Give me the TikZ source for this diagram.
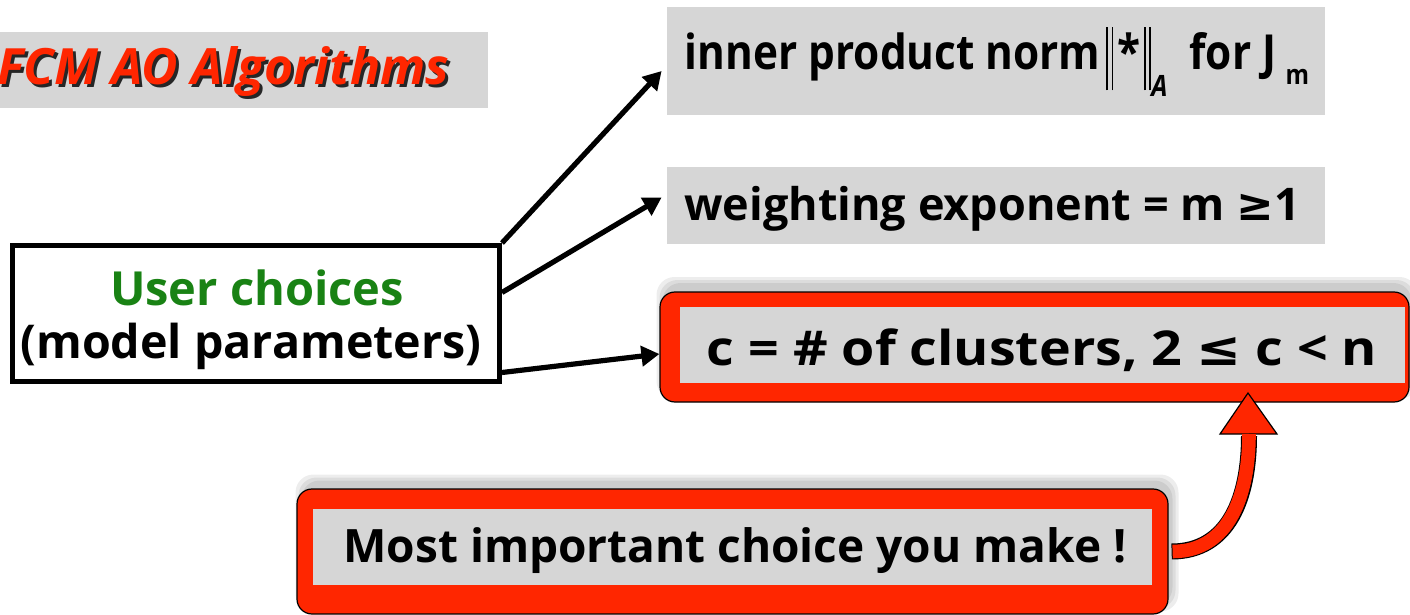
\documentclass[tikz,border=0pt]{standalone}
\usepackage{fontspec}
\setmainfont{Open Sans}
\newfontfamily\djv{DejaVu Sans}
\usetikzlibrary{arrows.meta,calc}
\definecolor{fcmred}{RGB}{255,38,0}
\definecolor{boxgray}{RGB}{214,214,214}
\definecolor{usergreen}{RGB}{25,130,20}
\newcommand{\fsz}[1]{\fontsize{#1}{#1}\selectfont}
\begin{document}
\begin{tikzpicture}[x=0.5pt,y=-0.5pt,
  graybox/.style={fill=boxgray, draw=none, inner sep=0pt},
  redbox/.style={fill=fcmred, draw=black, line width=0.6pt, rounded corners=7.5pt, inner sep=0pt},
  shadowbox/.style={fill=black, draw=none, rounded corners=9pt, inner sep=0pt, opacity=0.07},
  bigtext/.style={font=\bfseries, inner sep=0pt},
  titletext/.style={font=\bfseries\itshape\fsz{25}, inner sep=0pt},
  arr/.style={line width=2.6pt, -{Triangle[length=9pt,width=10pt]}}
]
\useasboundingbox (0,0) rectangle (1410,615);

% title
\node[graybox, minimum width=244pt, minimum height=38pt] (tbox) at (244,70) {};
\node[titletext, text=black!85, anchor=west] (tshadow) at (0,75) {FCM AO Algorithms};
\node[titletext, text=fcmred, anchor=west] (title) at (-3,72) {FCM AO Algorithms};

% right gray boxes
\node[graybox, minimum width=329pt, minimum height=54pt] (b1) at (996,61) {};
\node[bigtext, anchor=center] (t1) at (997,62) {\scalebox{0.92}[1.05]{\fsz{23}inner product norm\hspace{3pt}%
  \raisebox{-10pt}{\rule{1pt}{30pt}\hspace{2pt}\rule{1pt}{30pt}}%
  \hspace{2pt}*\hspace{2pt}%
  \raisebox{-10pt}{\rule{1pt}{30pt}\hspace{2pt}\rule{1pt}{30pt}}%
  \raisebox{-13pt}{\fsz{14}\itshape A}\hspace{12pt}for J\hspace{5pt}\raisebox{-7pt}{\fsz{13}m}}};

\node[graybox, minimum width=329pt, minimum height=38.5pt] (b2) at (996,205.5) {};
\node[bigtext] (t2) at (992,209) {\fsz{22.5}weighting exponent = m {\djv\bfseries ≥}1};

% user choices box
\node[draw=black, fill=white, line width=2.5pt, minimum width=243.5pt, minimum height=68pt, inner sep=0pt] (ub) at (256,313.5) {};
\node[bigtext, text=usergreen] (ut1) at (257,288) {\fsz{23.5}User choices};
\node[bigtext] (ut2) at (251,346) {\fsz{23.3}(model parameters)};

% shadows of red boxes
\foreach \d in {0,3,6}{
  \node[shadowbox, minimum width={374.5pt+\d pt}, minimum height={55pt+\d pt}] at (1037,338) {};
  \node[shadowbox, minimum width={435.5pt+\d pt}, minimum height={62.5pt+\d pt}] at (737,543) {};
}

% c box
\node[redbox, minimum width=374.5pt, minimum height=55pt] (cbox) at (1034.5,347) {};
\node[graybox, minimum width=362.5pt, minimum height=38pt] (cin) at (1042.5,345) {};
\node[bigtext] (ct) at (1042,350) {\scalebox{1.12}[1]{\fsz{24}c = \# of clusters, 2 {\djv\bfseries ≤} c < n}};

% most important box
\node[redbox, minimum width=435.5pt, minimum height=62.5pt] (mi) at (732.5,551.5) {};
\node[graybox, minimum width=419.5pt, minimum height=38pt] (miin) at (732.5,547) {};
\node[bigtext] (mt) at (735,551) {\fsz{23}Most important choice you make !};

% black arrows
\draw[arr] (ub.north east) -- ($(b1.west)+(-5,10)$);
\draw[arr] ($(ub.east)+(0,-21)$) -- ($(b2.west)+(-5,-8)$);
\draw[arr] ($(ub.east)+(0,59)$) -- ($(cbox.west)+(0,7)$);

% red block arrow
\coordinate (tip) at (1248,393);
\coordinate (hb) at (1249,436);
\path[fill=fcmred, draw=black, line width=0.6pt] ($(tip)+(-28,41)$) -- (tip) -- ($(tip)+(29,41)$) -- cycle;
\draw[line width=8pt, black] ($(mi.east)+(3,0)$) .. controls +(58,0) and +(0,60) .. (hb);
\draw[line width=6.8pt, fcmred] ($(mi.east)+(4,0)$) .. controls +(57,0) and +(0,60) .. ($(hb)+(0,-2)$);
\end{tikzpicture}
\end{document}
